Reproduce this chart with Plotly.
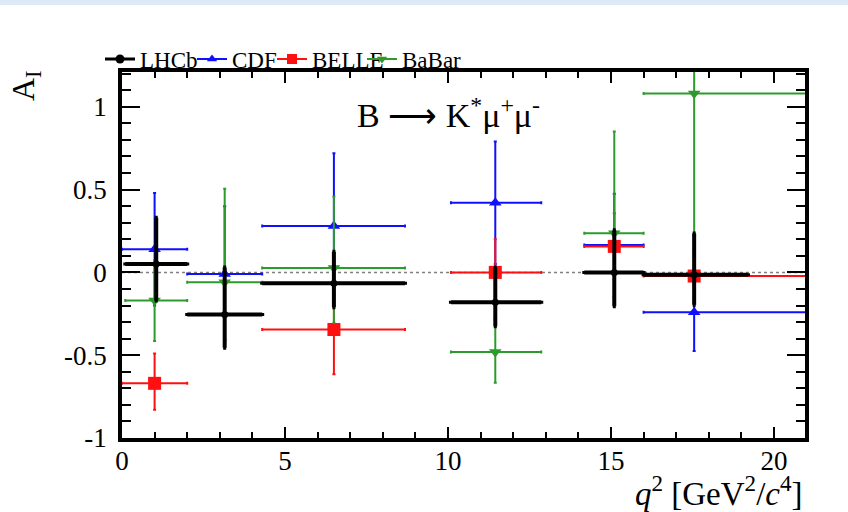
import plotly.graph_objects as go

# ---------------- data ----------------
# LHCb
lhcb_lo = [0.1, 2.0, 4.3, 10.09, 14.18, 16.0]
lhcb_hi = [2.0, 4.3, 8.68, 12.86, 16.0, 19.2]
lhcb_x = [1.05, 3.15, 6.5, 11.45, 15.1, 17.55]
lhcb_y = [0.05, -0.255, -0.065, -0.18, 0.0, -0.015]
lhcb_eup = [0.28, 0.285, 0.19, 0.21, 0.255, 0.25]
lhcb_edn = [0.22, 0.20, 0.145, 0.145, 0.205, 0.18]

# CDF
cdf_lo = [0.0, 2.0, 4.3, 10.09, 14.18, 16.0]
cdf_hi = [2.0, 4.3, 8.68, 12.86, 16.0, 23.0]
cdf_x = [1.0, 3.15, 6.5, 11.45, 15.1, 17.55]
cdf_y = [0.14, -0.01, 0.28, 0.42, 0.165, -0.24]
cdf_eup = [0.34, 0.41, 0.44, 0.37, 0.31, 0.235]
cdf_edn = [0.34, 0.40, 0.42, 0.37, 0.31, 0.235]

# BELLE
belle_lo = [0.0, 4.3, 10.09, 14.18, 16.0]
belle_hi = [2.0, 8.68, 12.86, 16.0, 25.0]
belle_x = [1.0, 6.5, 11.45, 15.1, 17.55]
belle_y = [-0.67, -0.345, 0.0, 0.157, -0.022]
belle_eup = [0.18, 0.27, 0.2, 0.2, 0.15]
belle_edn = [0.16, 0.27, 0.2, 0.2, 0.15]

# BaBar
babar_lo = [0.1, 2.0, 4.3, 10.09, 14.18, 16.0]
babar_hi = [2.0, 4.3, 8.68, 12.86, 16.0, 25.0]
babar_x = [1.0, 3.15, 6.5, 11.45, 15.1, 17.55]
babar_y = [-0.17, -0.06, 0.026, -0.48, 0.237, 1.08]
babar_eup = [0.245, 0.565, 0.432, 0.2, 0.613, 0.85]
babar_edn = [0.245, 0.35, 0.33, 0.187, 0.39, 0.85]

x_ticks = [0, 5, 10, 15, 20]
x_tick_text = ["0", "5", "10", "15", "20"]
y_ticks = [-1, -0.5, 0, 0.5, 1]
y_tick_text = ["-1", "-0.5", "0", "0.5", "1"]

FONT = "Liberation Serif"

def trace(name, xs, ys, lo, hi, eup, edn, color, symbol, msize, lw):
    return go.Scatter(
        x=xs, y=ys, mode="markers", name=name, showlegend=False,
        marker=dict(symbol=symbol, size=msize, color=color),
        error_x=dict(type="data", symmetric=False,
                     array=[h - x for h, x in zip(hi, xs)],
                     arrayminus=[x - l for l, x in zip(lo, xs)],
                     color=color, thickness=lw, width=1.5),
        error_y=dict(type="data", symmetric=False, array=eup, arrayminus=edn,
                     color=color, thickness=lw, width=1.5),
        cliponaxis=True,
    )

fig = go.Figure()
fig.add_trace(trace("CDF", cdf_x, cdf_y, cdf_lo, cdf_hi, cdf_eup, cdf_edn,
                    "#1010ff", "triangle-up", 11, 2))
fig.add_trace(trace("BELLE", belle_x, belle_y, belle_lo, belle_hi, belle_eup, belle_edn,
                    "#ff1010", "square", 13, 2))
fig.add_trace(trace("BaBar", babar_x, babar_y, babar_lo, babar_hi, babar_eup, babar_edn,
                    "#2e9a2e", "triangle-down", 11, 2))
fig.add_trace(trace("LHCb", lhcb_x, lhcb_y, lhcb_lo, lhcb_hi, lhcb_eup, lhcb_edn,
                    "black", "circle", 7, 4))

# legend entries (line + marker, like the ROOT legend)
leg_specs = [("LHCb", "black", "circle", 9, 3, "legend"),
             ("CDF", "#1010ff", "triangle-up", 9, 2, "legend2"),
             ("BELLE", "#ff1010", "square", 10, 2, "legend3"),
             ("BaBar", "#2e9a2e", "triangle-down", 9, 2, "legend4")]
for nm, col, sym, ms, lw, lg in leg_specs:
    fig.add_trace(go.Scatter(x=[None], y=[None], mode="lines+markers", name=nm,
                             line=dict(color=col, width=lw),
                             marker=dict(symbol=sym, size=ms, color=col),
                             legend=lg, showlegend=True))

legfont = dict(family=FONT, size=23, color="black")
leg_x_px = [100, 192, 272, 362]
for lg, px in zip(["legend", "legend2", "legend3", "legend4"], leg_x_px):
    fig.update_layout({lg: dict(x=(px - 122) / 683, y=(438 - 59) / 366,
                                xanchor="left", yanchor="middle",
                                orientation="h", font=legfont,
                                bgcolor="rgba(0,0,0,0)", borderwidth=0,
                                itemwidth=30, tracegroupgap=0)})

# zero reference line
fig.add_shape(type="line", xref="x", yref="y", x0=0, x1=20.95, y0=0, y1=0,
              line=dict(color="#808080", width=1.5, dash="3px,3px"), layer="below")

# light blue band at top of the picture
fig.add_shape(type="rect", xref="paper", yref="paper",
              x0=-0.2, x1=1.1, y0=(438 - 5) / 366, y1=(438 + 2) / 366,
              fillcolor="#dceaf8", line=dict(width=0), layer="below")

axis_common = dict(showline=True, linecolor="black", linewidth=3.5, mirror="allticks",
                   ticks="inside", tickcolor="black", tickwidth=2,
                   showgrid=False, zeroline=False,
                   tickfont=dict(family=FONT, size=27, color="black"))

fig.update_xaxes(range=[0, 20.95], tickvals=x_ticks, ticktext=x_tick_text,
                 ticklen=11, ticklabelstandoff=-4,
                 minor=dict(dtick=1, ticks="inside", ticklen=6,
                            tickwidth=2, tickcolor="black", showgrid=False),
                 **axis_common)
fig.update_yaxes(range=[-1.0, 1.21], tickvals=y_ticks, ticktext=y_tick_text,
                 ticklen=18, ticklabelstandoff=6,
                 minor=dict(dtick=0.1, ticks="inside", ticklen=9,
                            tickwidth=2, tickcolor="black", showgrid=False),
                 **axis_common)

fig.add_annotation(text="B ⟶ K<sup>*</sup>μ<sup>+</sup>μ<sup>-</sup>",
                   xref="x", yref="y", x=10.0, y=0.965, showarrow=False,
                   font=dict(family=FONT, size=34, color="black"))
fig.add_annotation(text="<i>q</i><sup>2</sup>\u00a0[GeV<sup>2</sup>/<i>c</i><sup>4</sup>]",
                   xref="paper", yref="paper", x=1.0, y=(438 - 491) / 366,
                   xanchor="right", yanchor="middle", showarrow=False,
                   font=dict(family=FONT, size=33, color="black"))
fig.add_annotation(text="A<sub>I</sub>", textangle=-90,
                   xref="paper", yref="paper", x=(25 - 122) / 683, y=(438 - 86) / 366,
                   xanchor="center", yanchor="middle", showarrow=False,
                   font=dict(family=FONT, size=32, color="black"))

fig.update_layout(width=848, height=512,
                  margin=dict(l=122, r=43, t=72, b=74),
                  paper_bgcolor="white", plot_bgcolor="white")

fig.write_html("out.html", config={"displayModeBar": False},
               post_script="document.body.style.margin='0';document.body.style.padding='0';")
